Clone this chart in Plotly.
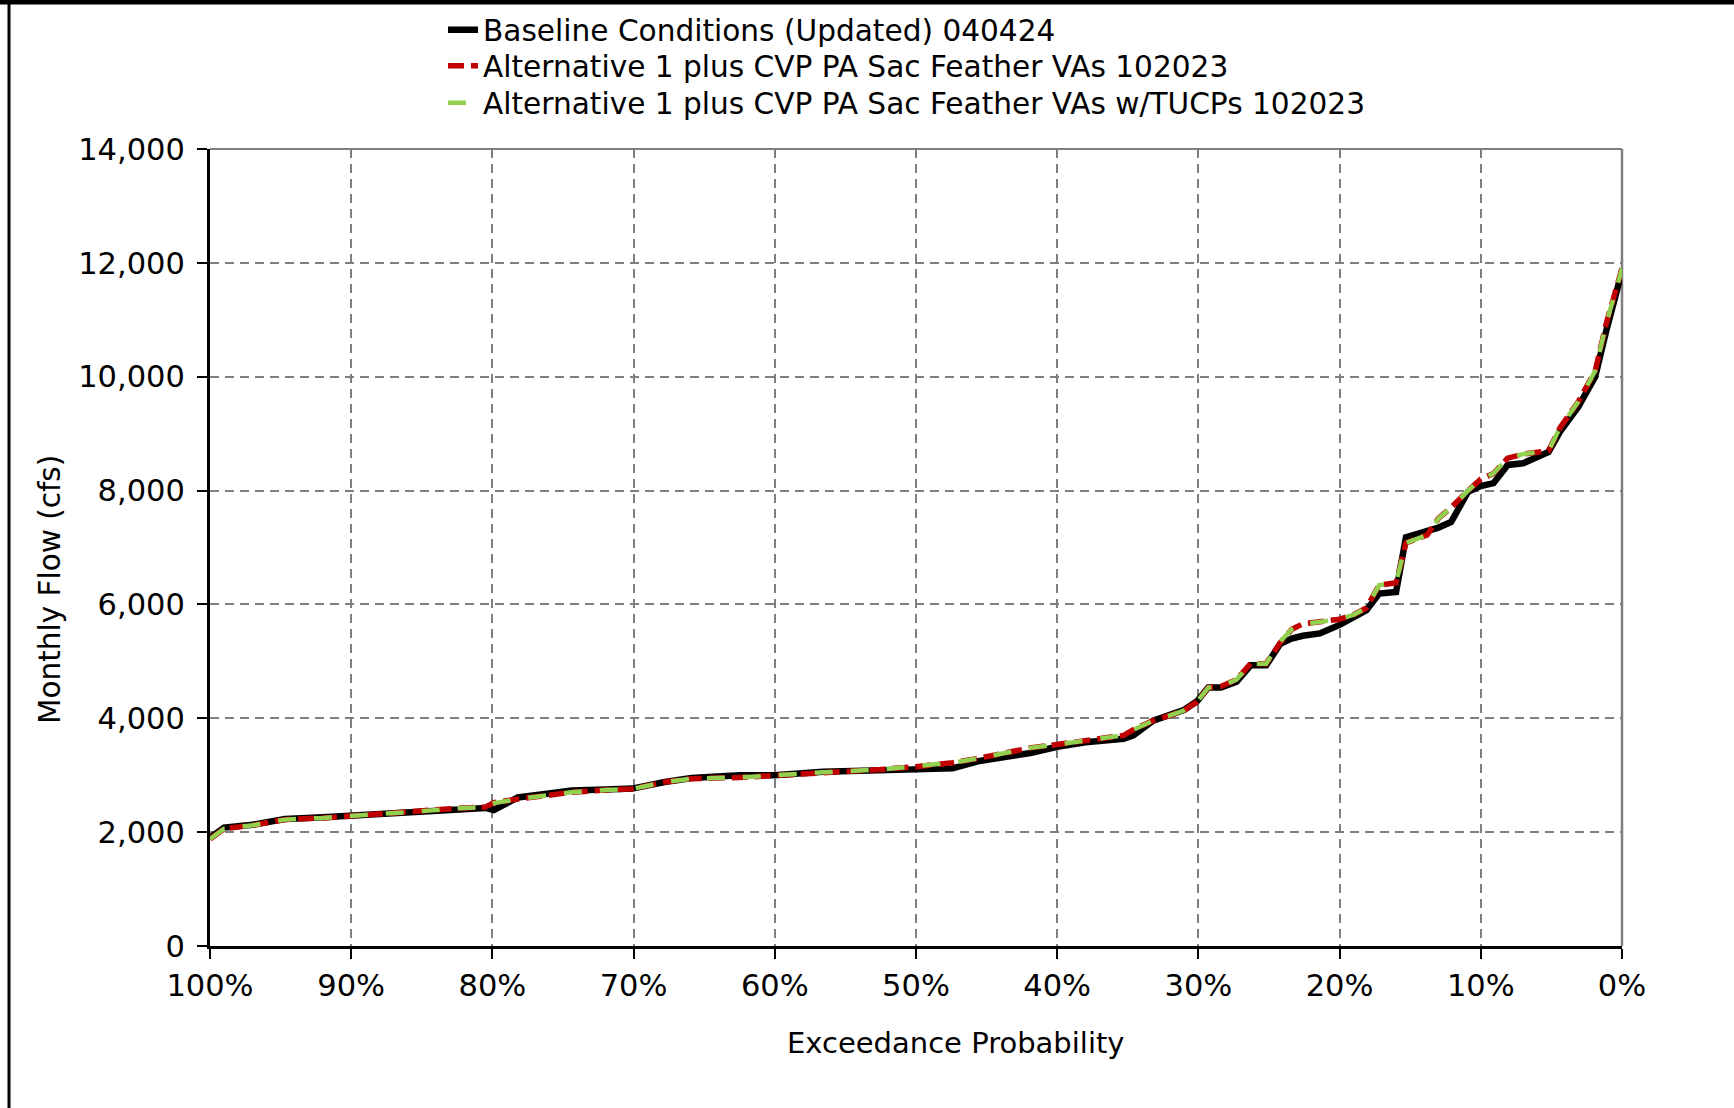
import plotly.graph_objects as go

# Exceedance probability (%) at the read-off points
exceedance = [100, 99, 97, 94.7, 92, 90, 88, 86, 84, 82.4, 80.5, 79.9, 78.2, 76, 74.4, 72,
              70.1, 67.8, 65.9, 62.5, 60, 56.6, 52.5, 50, 47.4, 45.5, 43.5, 41.9, 40, 38,
              35.3, 34.6, 33.2, 32, 31, 30.1, 29.3, 28.4, 27.3, 26.3, 25.2, 24.2, 23.4,
              22.6, 21.4, 20, 19, 18.1, 17.2, 16.0, 15.3, 13.8, 13.0, 12.1, 10.9, 10.0,
              9.1, 8.1, 7.0, 5.2, 4.4, 3.1, 1.9, 1.1, 0]

baseline = [1900, 2080, 2130, 2230, 2260, 2290, 2320, 2355, 2400, 2425, 2425, 2390, 2610,
            2680, 2730, 2750, 2765, 2880, 2950, 3000, 3000, 3060, 3085, 3100, 3120, 3250,
            3330, 3390, 3500, 3580, 3640, 3700, 3960, 4050, 4150, 4300, 4540, 4540, 4640,
            4930, 4930, 5310, 5400, 5450, 5490, 5640, 5780, 5900, 6190, 6220, 7180, 7280,
            7350, 7450, 7980, 8080, 8130, 8450, 8480, 8680, 9030, 9470, 10000, 10820, 11850]

alt1 = [1880, 2060, 2120, 2220, 2250, 2290, 2320, 2350, 2390, 2420, 2440, 2520, 2580,
        2660, 2700, 2740, 2760, 2880, 2940, 2960, 2990, 3050, 3100, 3150, 3220, 3300,
        3400, 3480, 3540, 3600, 3700, 3800, 3960, 4050, 4140, 4290, 4540, 4560, 4680,
        4960, 4960, 5330, 5560, 5660, 5700, 5740, 5820, 5940, 6340, 6380, 7080, 7220,
        7510, 7700, 8000, 8200, 8300, 8570, 8640, 8700, 9100, 9560, 10100, 10950, 11900]

alt1_tucp = [1880, 2060, 2120, 2220, 2250, 2290, 2320, 2350, 2390, 2420, 2440, 2510, 2580,
             2660, 2700, 2740, 2760, 2880, 2940, 2960, 2990, 3050, 3100, 3150, 3220, 3300,
             3400, 3480, 3540, 3600, 3700, 3800, 3960, 4050, 4140, 4290, 4540, 4560, 4680,
             4960, 4960, 5350, 5560, 5650, 5700, 5740, 5820, 5940, 6340, 6380, 7080, 7220,
             7510, 7700, 8000, 8200, 8300, 8570, 8640, 8700, 9100, 9560, 10100, 10950, 11900]

series_names = ["Baseline Conditions (Updated) 040424",
                "Alternative 1 plus CVP PA Sac Feather VAs 102023",
                "Alternative 1 plus CVP PA Sac Feather VAs w/TUCPs 102023"]

x_ticks = [100, 90, 80, 70, 60, 50, 40, 30, 20, 10, 0]
x_tick_labels = ["100%", "90%", "80%", "70%", "60%", "50%", "40%", "30%", "20%", "10%", "0%"]
y_ticks = [0, 2000, 4000, 6000, 8000, 10000, 12000, 14000]
y_tick_labels = ["0", "2,000", "4,000", "6,000", "8,000", "10,000", "12,000", "14,000"]

FONT = "DejaVu Sans"
GRID = "#7f7f7f"

fig = go.Figure()
fig.add_trace(go.Scatter(x=exceedance, y=baseline, mode="lines", name=series_names[0],
                         legend="legend",
                         line=dict(color="#000000", width=6.5)))
fig.add_trace(go.Scatter(x=exceedance, y=alt1, mode="lines", name=series_names[1],
                         legend="legend2",
                         line=dict(color="#C00000", width=5.5, dash="16px,7px")))
fig.add_trace(go.Scatter(x=exceedance, y=alt1_tucp, mode="lines", name=series_names[2],
                         legend="legend3",
                         line=dict(color="#92D050", width=4.5, dash="18px,18px")))

W, H = 1734, 1108
L, R, T, B = 210, 112, 149, 162
pw, ph = W - L - R, H - T - B

def px(x):
    return (x - L) / pw

def py(y):
    return (H - B - y) / ph

def leg(row_y):
    return dict(x=px(443), y=py(row_y), xanchor="left", yanchor="middle",
                bgcolor="rgba(0,0,0,0)", font=dict(family=FONT, size=29.6),
                itemwidth=30, borderwidth=0)

fig.update_layout(
    width=W, height=H,
    margin=dict(l=L, r=R, t=T, b=B, pad=0, autoexpand=False),
    paper_bgcolor="white", plot_bgcolor="white",
    font=dict(family=FONT, size=29, color="#000000"),
    showlegend=True,
    legend=leg(30), legend2=leg(66), legend3=leg(103),
    xaxis=dict(range=[100, 0], tickvals=x_ticks, ticktext=x_tick_labels,
               showgrid=True, gridcolor=GRID, gridwidth=2, griddash="9px,6px",
               showline=True, linecolor="#000000", linewidth=3,
               ticks="outside", ticklen=10, tickwidth=2, tickcolor="#000000",
               ticklabelstandoff=0, zeroline=False,
               tickfont=dict(family=FONT, size=30.5)),
    yaxis=dict(range=[0, 14000], tickvals=y_ticks, ticktext=y_tick_labels,
               showgrid=True, gridcolor=GRID, gridwidth=2, griddash="9px,6px",
               showline=True, linecolor="#000000", linewidth=3,
               ticks="outside", ticklen=10, tickwidth=2, tickcolor="#000000",
               ticklabelstandoff=6, zeroline=False,
               tickfont=dict(family=FONT, size=30.5)),
    annotations=[
        dict(text="Monthly Flow (cfs)", xref="paper", yref="paper",
             x=px(50), y=py(590), textangle=-90, showarrow=False,
             font=dict(family=FONT, size=29.5), xanchor="center", yanchor="middle"),
        dict(text="Exceedance Probability", xref="paper", yref="paper",
             x=px(955), y=py(1043), showarrow=False,
             font=dict(family=FONT, size=29), xanchor="center", yanchor="middle"),
    ],
    shapes=[
        dict(type="line", xref="paper", yref="paper", x0=0, x1=1, y0=1, y1=1,
             line=dict(color=GRID, width=2), layer="below"),
        dict(type="line", xref="paper", yref="paper", x0=1, x1=1, y0=0, y1=1,
             line=dict(color=GRID, width=2.5), layer="below"),
        dict(type="line", xref="paper", yref="paper", x0=px(0), x1=px(W), y0=py(2), y1=py(2),
             line=dict(color="#000000", width=5)),
        dict(type="line", xref="paper", yref="paper", x0=px(9), x1=px(9), y0=py(0), y1=py(H),
             line=dict(color="#000000", width=3)),
    ],
)

fig.write_html("out.html")
